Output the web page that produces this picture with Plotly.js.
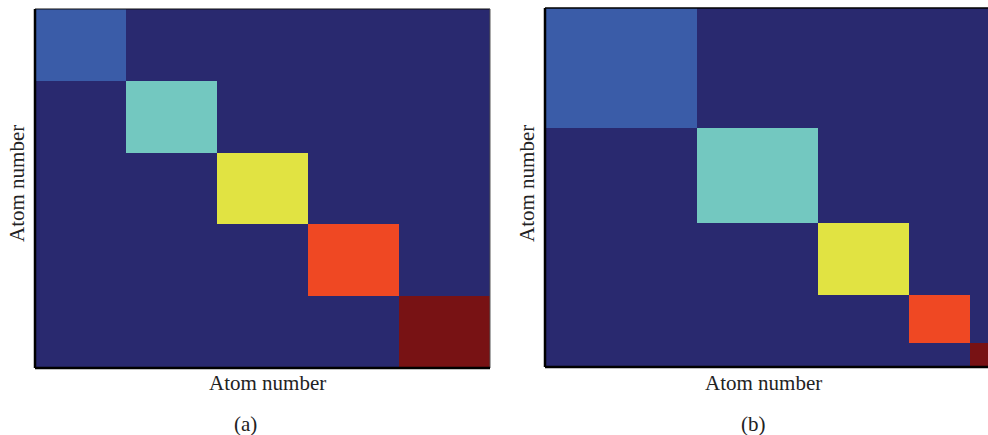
<!DOCTYPE html>
<html>
<head>
<meta charset="utf-8">
<script src="https://cdn.plot.ly/plotly-3.0.1.min.js"></script>
<style>html,body{margin:0;padding:0;background:#fff;}#chart{width:988px;height:435px;}</style>
</head>
<body>
<div id="chart"></div>
<script>
// Block sizes along the diagonal (relative atom counts per block)
const blockSizesA = [1, 1, 1, 1, 1];
const blockSizesB = [5, 4, 3, 2, 1];
// Block index (cluster label) for each diagonal block; 0 = off-diagonal
const blockLabels = [1, 2, 3, 4, 5];
const blockColors = ['#29296f', '#3a5ca8', '#73c8c0', '#e1e342', '#ef4823', '#781214'];
const xTitle = 'Atom number';
const yTitle = 'Atom number';
const panelLabels = ['(a)', '(b)'];

function edges(sizes) {
  const e = [0];
  sizes.forEach(s => e.push(e[e.length - 1] + s));
  return e;
}
function blockMatrix(sizes) {
  const n = sizes.length;
  const z = [];
  for (let i = 0; i < n; i++) {
    const row = [];
    for (let j = 0; j < n; j++) row.push(i === j ? blockLabels[i] : 0);
    z.push(row);
  }
  return z;
}
const cs = [];
const nC = blockColors.length;
blockColors.forEach((c, i) => {
  cs.push([i / nC, c]);
  cs.push([(i + 1) / nC, c]);
});

const eA = edges(blockSizesA), eB = edges(blockSizesB);
const totA = eA[eA.length - 1], totB = eB[eB.length - 1];

const W = 988, H = 435;
const axA = {x0: 35, x1: 490, y0: 9, y1: 368};
const axB = {x0: 545, x1: 1000, y0: 8, y1: 367};

const traces = [
  {type: 'heatmap', x: eA, y: eA, z: blockMatrix(blockSizesA), colorscale: cs, zmin: 0, zmax: 6,
   showscale: false, xaxis: 'x', yaxis: 'y', hoverinfo: 'skip'},
  {type: 'heatmap', x: eB, y: eB, z: blockMatrix(blockSizesB), colorscale: cs, zmin: 0, zmax: 6,
   showscale: false, xaxis: 'x2', yaxis: 'y2', hoverinfo: 'skip'}
];

const hidden = {showgrid: false, zeroline: false, showticklabels: false, ticks: '', showline: false};
// right panel is cropped by the figure edge
const visFracB = (W - axB.x0) / (axB.x1 - axB.x0);

const serif = 'Liberation Serif, Times New Roman, serif';
const fs = 21;
const layout = {
  width: W, height: H,
  margin: {l: 0, r: 0, t: 0, b: 0},
  paper_bgcolor: '#ffffff', plot_bgcolor: '#ffffff',
  showlegend: false,
  xaxis: Object.assign({}, hidden, {domain: [axA.x0 / W, axA.x1 / W], range: [0, totA]}),
  yaxis: Object.assign({}, hidden, {domain: [1 - axA.y1 / H, 1 - axA.y0 / H], range: [totA, 0]}),
  xaxis2: Object.assign({}, hidden, {domain: [axB.x0 / W, 1], range: [0, totB * visFracB], anchor: 'y2'}),
  yaxis2: Object.assign({}, hidden, {domain: [1 - axB.y1 / H, 1 - axB.y0 / H], range: [totB, 0], anchor: 'x2'}),
  shapes: [
    // panel a frame
    {type: 'line', xref: 'paper', yref: 'paper', x0: axA.x0 / W, x1: axA.x1 / W, y0: 1 - axA.y0 / H, y1: 1 - axA.y0 / H, line: {color: '#111', width: 1}},
    {type: 'line', xref: 'paper', yref: 'paper', x0: axA.x1 / W, x1: axA.x1 / W, y0: 1 - axA.y0 / H, y1: 1 - axA.y1 / H, line: {color: '#555', width: 1}},
    {type: 'line', xref: 'paper', yref: 'paper', x0: axA.x0 / W, x1: axA.x0 / W, y0: 1 - axA.y0 / H, y1: 1 - axA.y1 / H, line: {color: '#000', width: 2.5}},
    {type: 'line', xref: 'paper', yref: 'paper', x0: axA.x0 / W, x1: axA.x1 / W, y0: 1 - axA.y1 / H, y1: 1 - axA.y1 / H, line: {color: '#000', width: 2.5}},
    // panel b frame
    {type: 'line', xref: 'paper', yref: 'paper', x0: axB.x0 / W, x1: 1, y0: 1 - axB.y0 / H, y1: 1 - axB.y0 / H, line: {color: '#000', width: 1.5}},
    {type: 'line', xref: 'paper', yref: 'paper', x0: axB.x0 / W, x1: axB.x0 / W, y0: 1 - axB.y0 / H, y1: 1 - axB.y1 / H, line: {color: '#000', width: 2.5}},
    {type: 'line', xref: 'paper', yref: 'paper', x0: axB.x0 / W, x1: 1, y0: 1 - axB.y1 / H, y1: 1 - axB.y1 / H, line: {color: '#000', width: 2.5}}
  ],
  annotations: [
    {text: xTitle, xref: 'paper', yref: 'paper', x: 267 / W, y: 1 - 383 / H, showarrow: false, xanchor: 'center', yanchor: 'middle', font: {family: serif, size: fs, color: '#222'}},
    {text: yTitle, xref: 'paper', yref: 'paper', x: 17 / W, y: 1 - 184 / H, showarrow: false, textangle: -90, xanchor: 'center', yanchor: 'middle', font: {family: serif, size: fs, color: '#222'}},
    {text: xTitle, xref: 'paper', yref: 'paper', x: 763 / W, y: 1 - 383 / H, showarrow: false, xanchor: 'center', yanchor: 'middle', font: {family: serif, size: fs, color: '#222'}},
    {text: yTitle, xref: 'paper', yref: 'paper', x: 527 / W, y: 1 - 184 / H, showarrow: false, textangle: -90, xanchor: 'center', yanchor: 'middle', font: {family: serif, size: fs, color: '#222'}},
    {text: panelLabels[0], xref: 'paper', yref: 'paper', x: 245 / W, y: 1 - 424 / H, showarrow: false, xanchor: 'center', yanchor: 'middle', font: {family: serif, size: fs, color: '#222'}},
    {text: panelLabels[1], xref: 'paper', yref: 'paper', x: 753 / W, y: 1 - 424 / H, showarrow: false, xanchor: 'center', yanchor: 'middle', font: {family: serif, size: fs, color: '#222'}}
  ]
};

Plotly.newPlot('chart', traces, layout, {displayModeBar: false, staticPlot: true});
</script>
</body>
</html>
